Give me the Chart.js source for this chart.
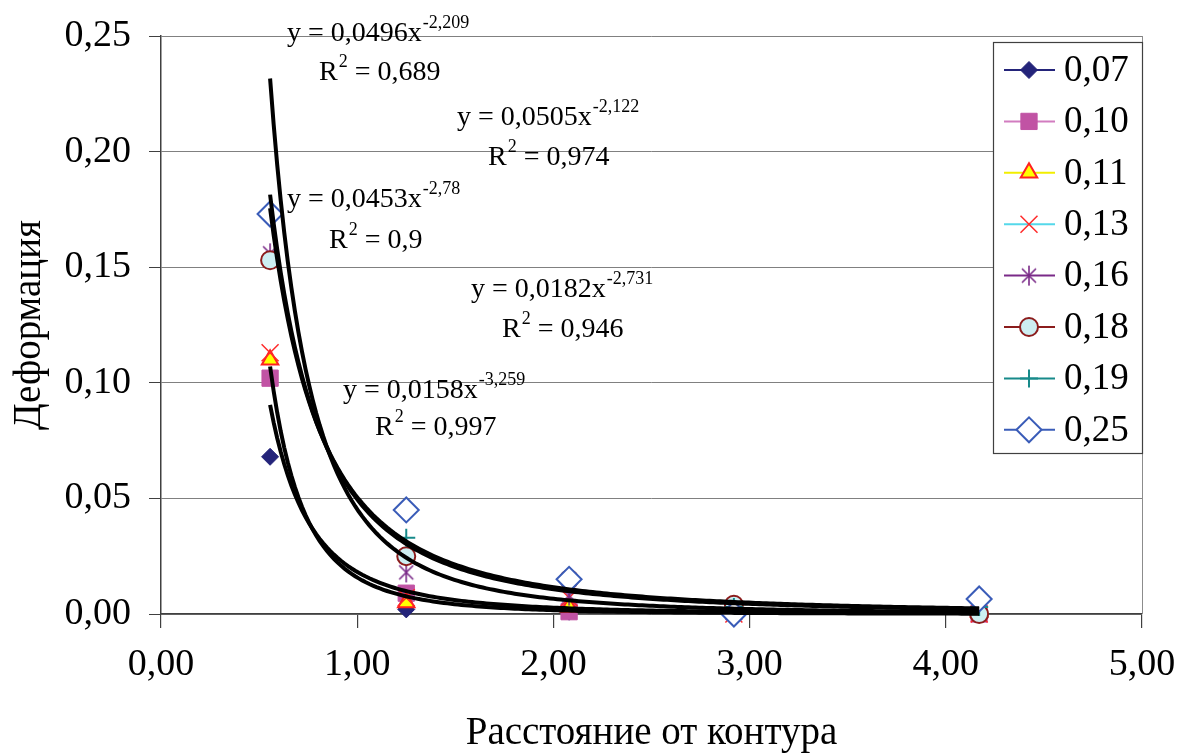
<!DOCTYPE html>
<html>
<head>
<meta charset="utf-8">
<script src="https://cdn.jsdelivr.net/npm/chart.js@4.4.1/dist/chart.umd.min.js"></script>
<style>
  html, body { margin: 0; padding: 0; background: #fff; }
  #wrap { width: 1178px; height: 753px; }
</style>
</head>
<body>
<div id="wrap"><canvas id="myChart" width="1178" height="753"></canvas></div>
<script>
// distance from the contour (x) and deformation per series (y)
const distances = [0.556, 1.25, 2.08, 2.92, 4.17];
const seriesNames = ['0,07', '0,10', '0,11', '0,13', '0,16', '0,18', '0,19', '0,25'];
const s007 = [0.068, 0.002, 0.001, 0.000, 0.001];
const s010 = [0.102, 0.009, 0.001, 0.001, 0.000];
const s011 = [0.110, 0.005, 0.003, 0.001, 0.001];
const s013 = [0.113, 0.007, 0.007, 0.000, 0.000];
const s016 = [0.156, 0.018, 0.008, 0.001, 0.001];
const s018 = [0.153, 0.025, 0.015, 0.004, 0.000];
const s019 = [0.173, 0.033, 0.014, 0.003, 0.003];
const s025 = [0.173, 0.045, 0.015, 0.000, 0.0065];
const seriesValues = [s007, s010, s011, s013, s016, s018, s019, s025];

// power trendlines y = a * x^b
const trendA = [0.0496, 0.0505, 0.0453, 0.0182, 0.0158];
const trendB = [-2.209, -2.122, -2.78, -2.731, -3.259];
const trendR2 = [0.689, 0.974, 0.9, 0.946, 0.997];

const FONT = 'Liberation Serif, Times New Roman, serif';

function fmtNum(v) {
    return String(v).replace('.', ',');
}

// asterisk marker (X with a vertical bar)
function makeStar(color) {
    const c = document.createElement('canvas');
    c.width = 22; c.height = 22;
    const g = c.getContext('2d');
    g.strokeStyle = color;
    g.lineWidth = 1.6;
    g.beginPath();
    g.moveTo(4, 4); g.lineTo(18, 18);
    g.moveTo(18, 4); g.lineTo(4, 18);
    g.moveTo(11, 1); g.lineTo(11, 21);
    g.stroke();
    return c;
}

const seriesStyles = [
    { line: '#24247A', pointStyle: 'rectRot', radius: 8.5, fill: '#24247A', border: '#24247A', bw: 1 },
    { line: '#D27CC0', pointStyle: 'rect', radius: 11.5, fill: '#C153A4', border: '#C153A4', bw: 1 },
    { line: '#F2EE00', pointStyle: 'triangle', radius: 9.5, fill: '#FFFF00', border: '#FF2020', bw: 2 },
    { line: '#55D8EA', pointStyle: 'crossRot', radius: 12, fill: '#FF2A2A', border: '#FF2A2A', bw: 1.5 },
    { line: '#7A2A88', pointStyle: makeStar('#7A2A88'), radius: 11, fill: '#7A2A88', border: '#7A2A88', bw: 1 },
    { line: '#8B1C1C', pointStyle: 'circle', radius: 9, fill: '#CDEEF2', border: '#8B1C1C', bw: 2 },
    { line: '#178A8A', pointStyle: 'cross', radius: 9, fill: '#178A8A', border: '#178A8A', bw: 2 },
    { line: '#3A5CB8', pointStyle: 'rectRot', radius: 12.5, fill: '#FFFFFF', border: '#3A5CB8', bw: 2 }
];

// where each equation and R² text goes: [eqX, eqY, r2X, r2Y]
const eqLabelPos = [
    [287, 41, 319, 80],
    [457, 125, 488, 165],
    [287, 207, 329, 248],
    [471, 297, 502, 337],
    [343, 398, 375, 435]
];

const datasets = [];

seriesValues.forEach(function(vals, i) {
    const st = seriesStyles[i];
    datasets.push({
        label: seriesNames[i],
        data: distances.map((x, k) => ({ x: x, y: vals[k] })),
        showLine: false,
        pointStyle: st.pointStyle,
        pointRadius: st.radius,
        pointBackgroundColor: st.fill,
        pointBorderColor: st.border,
        pointBorderWidth: st.bw,
        clip: false,
        order: 8 - i
    });
});

trendA.forEach(function(a, i) {
    const pts = [];
    const x0 = distances[0], x1 = distances[distances.length - 1];
    for (let k = 0; k <= 200; k++) {
        const x = x0 + (x1 - x0) * k / 200;
        pts.push({ x: x, y: a * Math.pow(x, trendB[i]) });
    }
    datasets.push({
        label: 'trend' + i,
        data: pts,
        showLine: true,
        pointRadius: 0,
        borderColor: '#000',
        borderWidth: 4,
        clip: false,
        order: 0
    });
});

function drawSup(ctx, x, y, main, sup, rest) {
    ctx.font = '28px ' + FONT;
    ctx.fillText(main, x, y);
    let w = ctx.measureText(main).width;
    ctx.font = '18px ' + FONT;
    ctx.fillText(sup, x + w + 1, y - 13);
    if (rest) {
        const sw = ctx.measureText(sup).width;
        ctx.font = '28px ' + FONT;
        ctx.fillText(rest, x + w + sw + 1, y);
    }
}

const extras = {
    id: 'extras',
    beforeDatasetsDraw(chart) {
        const { ctx, chartArea } = chart;
        ctx.save();
        ctx.strokeStyle = '#8c8c8c';
        ctx.lineWidth = 1;
        ctx.beginPath();
        ctx.moveTo(chartArea.right + 0.5, chartArea.top);
        ctx.lineTo(chartArea.right + 0.5, chartArea.bottom);
        ctx.stroke();
        ctx.restore();
    },
    afterDatasetsDraw(chart) {
        const ctx = chart.ctx;
        ctx.save();

        // trendline equations
        ctx.fillStyle = '#000';
        ctx.textBaseline = 'alphabetic';
        ctx.textAlign = 'left';
        eqLabelPos.forEach(function(p, i) {
            drawSup(ctx, p[0], p[1], 'y = ' + fmtNum(trendA[i]) + 'x', fmtNum(trendB[i]));
            drawSup(ctx, p[2], p[3], 'R', '2', ' = ' + fmtNum(trendR2[i]));
        });

        // legend box
        const lx = 993, ly = 42, lw = 149, lh = 411;
        ctx.fillStyle = '#fff';
        ctx.fillRect(lx, ly, lw, lh);
        ctx.strokeStyle = '#404040';
        ctx.lineWidth = 1.2;
        ctx.strokeRect(lx + 0.5, ly + 0.5, lw, lh);

        seriesNames.forEach(function(name, i) {
            const st = seriesStyles[i];
            const y = 70 + i * 51.4;
            ctx.strokeStyle = st.line;
            ctx.lineWidth = 2;
            ctx.beginPath();
            ctx.moveTo(1004, y);
            ctx.lineTo(1055, y);
            ctx.stroke();

            ctx.fillStyle = st.fill;
            ctx.strokeStyle = st.border;
            ctx.lineWidth = st.bw;
            Chart.helpers.drawPoint(ctx, {
                pointStyle: st.pointStyle,
                radius: st.radius,
                rotation: 0,
                borderWidth: st.bw
            }, 1029, y);

            ctx.fillStyle = '#000';
            ctx.font = '37px ' + FONT;
            ctx.textBaseline = 'middle';
            ctx.fillText(name, 1064, y + 1);
        });
        ctx.restore();
    }
};

document.addEventListener('DOMContentLoaded', function() {
    const ctx = document.getElementById('myChart').getContext('2d');

    new Chart(ctx, {
        type: 'scatter',
        data: { datasets: datasets },
        options: {
            responsive: false,
            animation: false,
            devicePixelRatio: 1,
            layout: { padding: { top: 36, right: 36, bottom: 0, left: 0 } },
            plugins: {
                legend: { display: false },
                tooltip: { enabled: false }
            },
            scales: {
                x: {
                    type: 'linear',
                    min: 0,
                    max: 5,
                    ticks: {
                        stepSize: 1,
                        maxRotation: 0,
                        padding: 14,
                        color: '#000',
                        font: { family: FONT, size: 38 },
                        callback: v => v.toFixed(2).replace('.', ',')
                    },
                    grid: { drawOnChartArea: false, tickLength: 14, color: '#404040', lineWidth: 1.2 },
                    border: { color: '#404040', width: 1.5 },
                    title: {
                        display: true,
                        text: 'Расстояние от контура',
                        color: '#000',
                        font: { family: FONT, size: 39, lineHeight: 1 },
                        padding: { top: 0, bottom: 0 }
                    },
                    afterFit(scale) {
                        scale.height = 139;
                        scale.paddingLeft = 0;
                        scale.paddingRight = 0;
                    }
                },
                y: {
                    min: 0,
                    max: 0.25,
                    ticks: {
                        stepSize: 0.05,
                        padding: 18,
                        color: '#000',
                        font: { family: FONT, size: 38 },
                        callback: v => v.toFixed(2).replace('.', ',')
                    },
                    grid: { color: '#808080', lineWidth: 1, tickLength: 12, tickColor: '#404040' },
                    border: { color: '#404040', width: 1.5 },
                    title: {
                        display: true,
                        text: 'Деформация',
                        color: '#000',
                        font: { family: FONT, size: 39, lineHeight: 1 },
                        padding: { top: 10, bottom: 0 }
                    },
                    afterFit(scale) {
                        scale.width = 161;
                        scale.paddingTop = 0;
                        scale.paddingBottom = 0;
                    }
                }
            }
        },
        plugins: [extras]
    });
});
</script>
</body>
</html>
